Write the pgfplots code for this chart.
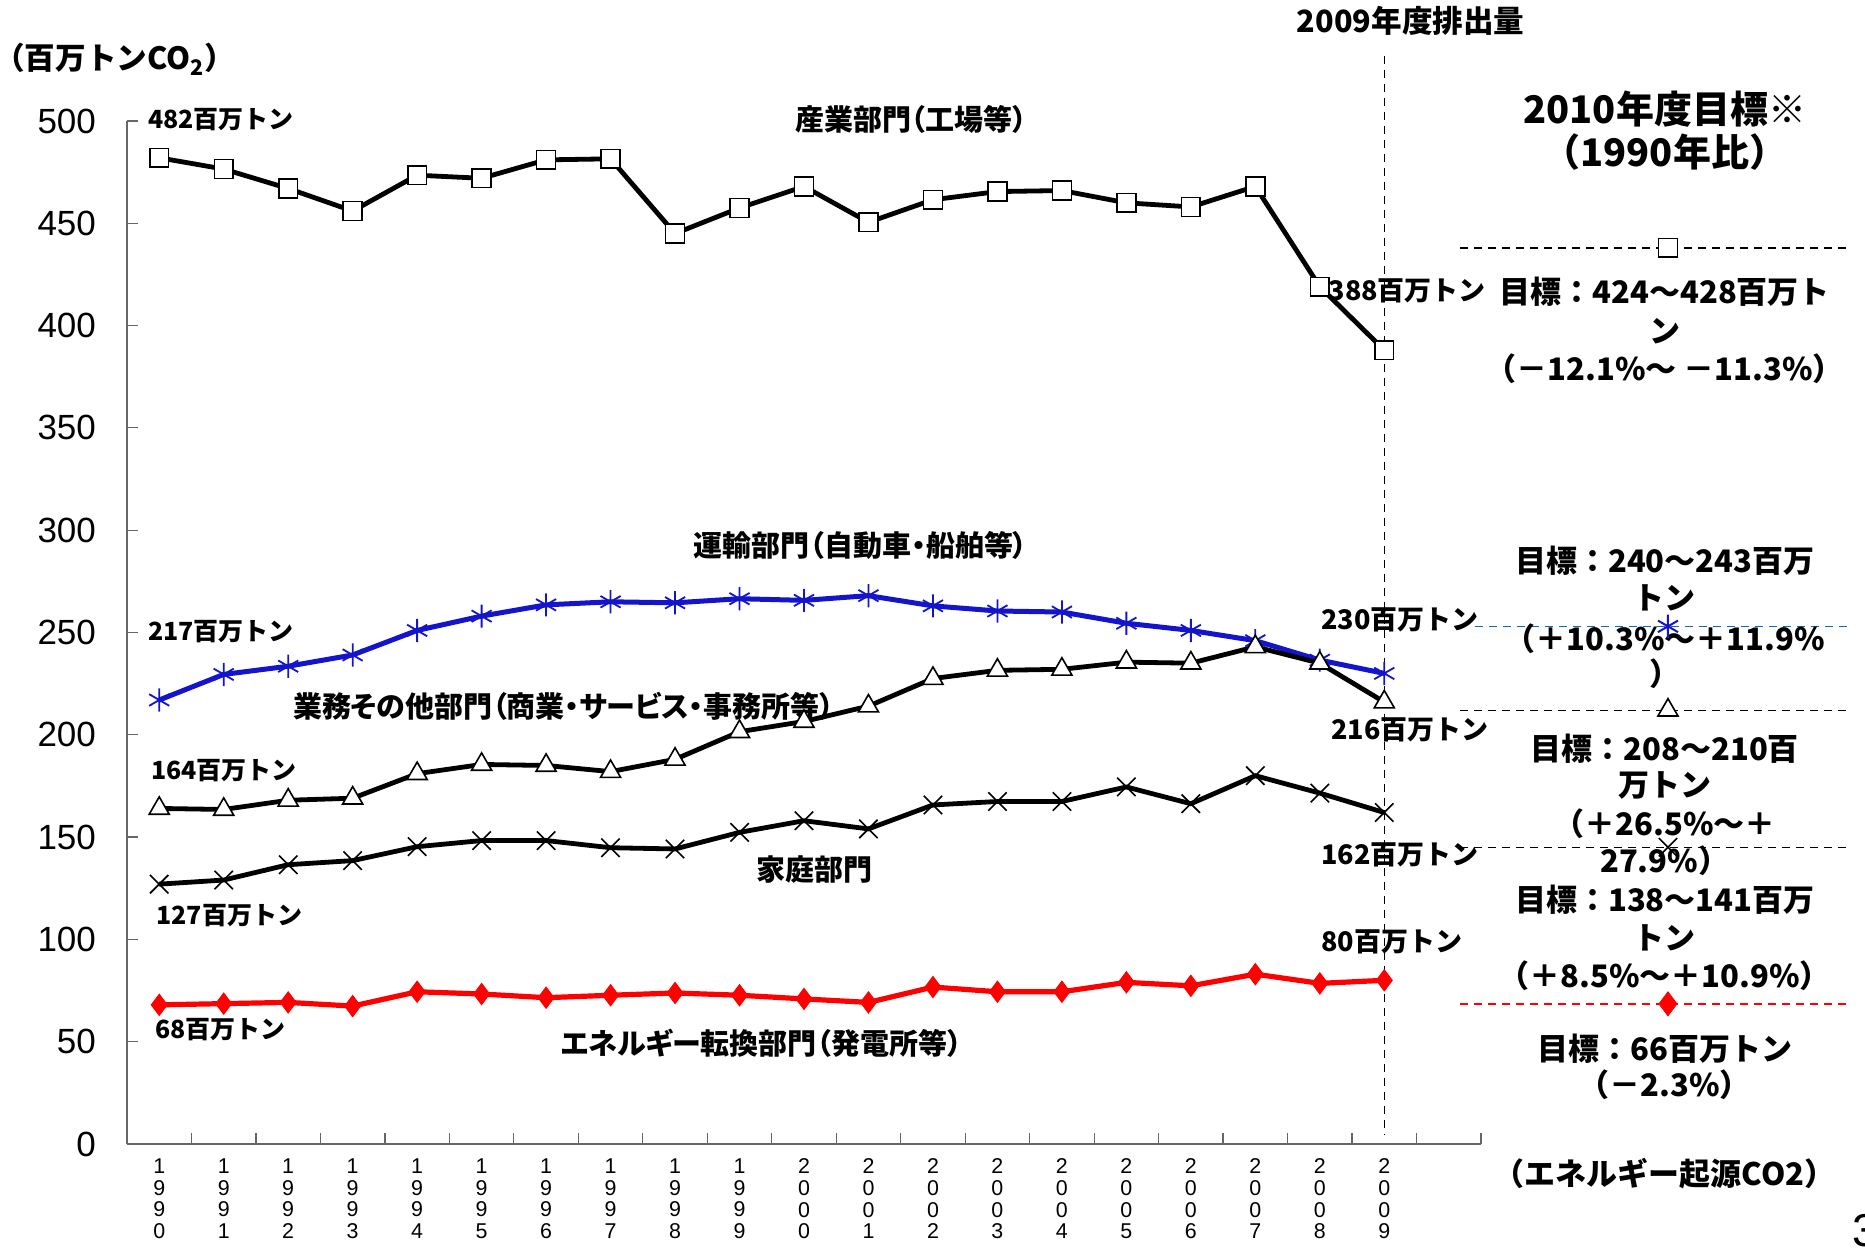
\documentclass[border=0pt]{standalone}
\usepackage{pgfplots}
\pgfplotsset{compat=1.18}
\usepackage{pgfplotstable}
\usepackage{fontspec}
\setmainfont{Liberation Sans}
\newfontfamily\jp{Noto Sans CJK JP}
\newfontfamily\jpp{Noto Sans CJK JP}[RawFeature=+palt]

\definecolor{trblue}{RGB}{20,20,205}
\definecolor{tgblue}{RGB}{0,112,192}
\definecolor{enred}{RGB}{255,0,0}

\tikzset{
  lbl/.style={font=\jp\bfseries\fontsize{12.5}{14}\selectfont},
  lblr/.style={font=\jp\bfseries\fontsize{13.5}{14}\selectfont},
  ttl/.style={font=\jp\bfseries\fontsize{15.3}{16}\selectfont},
  sector/.style={font=\jpp\bfseries\fontsize{14.5}{15}\selectfont},
  tgt/.style={font=\jp\bfseries\fontsize{15.5}{16}\selectfont},
  hdr/.style={font=\jp\bfseries\fontsize{19}{20}\selectfont},
}

% CO2 emissions by sector, million t (fiscal years 1990-2009)
\pgfplotstableread{
x  ind    tra    com    hou    ene
0  482    217    164    127    68
1  476.5  229.5  163.5  129    68.6
2  467    233.5  168    136.5  69.2
3  456    239    169    138.5  67.4
4  473.5  251    181    145.3  74.4
5  472    258    185.5  148.3  73.3
6  481    263.5  185    148.3  71.5
7  481.5  265    182    144.8  72.7
8  445    264.5  188    144.2  73.8
9  457.5  266.5  201.5  152.3  72.7
10 468    265.7  206.5  158    70.9
11 450.5  268    214    154    69.2
12 461.5  263    227.5  165.7  76.7
13 465.5  260.5  231.5  167.4  74.4
14 466    260    232    167.4  74.4
15 460    254.5  235.5  174.5  79
16 458    251    235    166.3  77.3
17 468    246    243    180    83
18 419    236.5  235    171.5  78.5
19 388    230    216    162    80
}\emissions

\begin{document}
\begin{tikzpicture}
\begin{axis}[
  scale only axis, width=677pt, height=511.5pt,
  xmin=-0.5, xmax=20.5, ymin=0, ymax=500,
  clip=false,
  axis x line*=bottom, axis y line*=left,
  axis line style={draw=black!60, line width=0.7pt, -},
  tick style={draw=black!60, line width=0.6pt},
  tick align=inside,
  major tick length=5.5pt, minor tick length=5.5pt,
  ytick={0,50,...,500},
  /pgf/number format/assume math mode=true,
  yticklabel style={font=\fontsize{17.5}{17.5}\selectfont, xshift=-12pt},
  xtick={0,...,19},
  x tick style={draw=none},
  minor xtick={-0.5,0.5,...,20.5},
  minor x tick style={draw=black!60, line width=0.6pt},
  xticklabels={{1\\9\\9\\0},{1\\9\\9\\1},{1\\9\\9\\2},{1\\9\\9\\3},{1\\9\\9\\4},
    {1\\9\\9\\5},{1\\9\\9\\6},{1\\9\\9\\7},{1\\9\\9\\8},{1\\9\\9\\9},
    {2\\0\\0\\0},{2\\0\\0\\1},{2\\0\\0\\2},{2\\0\\0\\3},{2\\0\\0\\4},
    {2\\0\\0\\5},{2\\0\\0\\6},{2\\0\\0\\7},{2\\0\\0\\8},{2\\0\\0\\9}},
  xticklabel style={align=center, anchor=north, yshift=-4pt,
    font=\fontsize{10.7}{10.8}\selectfont},
]
\coordinate (O) at (axis cs:-0.5,0);

% 2009 reference line
\addplot[black, line width=0.7pt, dash pattern=on 4pt off 3pt, forget plot]
  coordinates {(19,532) (19,5)};

% sector series
\addplot[black, line width=2.4pt, mark=square*,
  mark options={fill=white, draw=black, line width=0.8pt}, mark size=4.7pt]
  table[x=x, y=ind] {\emissions};
\addplot[trblue, line width=2.5pt, mark=asterisk,
  mark options={draw=trblue, line width=0.9pt}, mark size=5.8pt]
  table[x=x, y=tra] {\emissions};
\addplot[black, line width=2.4pt, mark=triangle*,
  mark options={fill=white, draw=black, line width=0.8pt}, mark size=5.8pt]
  table[x=x, y=com] {\emissions};
\addplot[black, line width=2.4pt, mark=x,
  mark options={draw=black, line width=0.8pt}, mark size=6.5pt]
  table[x=x, y=hou] {\emissions};
\addplot[enred, line width=2.6pt, mark=diamond*,
  mark options={fill=enred, draw=enred, line width=0.6pt}, mark size=5.2pt]
  table[x=x, y=ene] {\emissions};

% 2010 target lines and marks
\addplot[black, line width=0.7pt, dash pattern=on 4pt off 3pt]
  coordinates {(20.18,438) (26.25,438)};
\addplot[tgblue, line width=0.7pt, dash pattern=on 4pt off 3pt]
  coordinates {(20.4,253) (26.25,253)};
\addplot[black, line width=0.7pt, dash pattern=on 4pt off 3pt]
  coordinates {(20.18,212) (26.25,212)};
\addplot[black, line width=0.7pt, dash pattern=on 4pt off 3pt]
  coordinates {(20.18,145) (26.25,145)};
\addplot[enred, line width=0.7pt, dash pattern=on 4pt off 3pt]
  coordinates {(20.18,68.5) (26.25,68.5)};
\addplot[only marks, mark=square*, mark options={fill=white, draw=black, line width=0.8pt}, mark size=4.7pt]
  coordinates {(23.4,438)};
\addplot[only marks, mark=asterisk, mark options={draw=trblue, line width=1pt}, mark size=5.8pt]
  coordinates {(23.4,253)};
\addplot[only marks, mark=triangle*, mark options={fill=white, draw=black, line width=0.8pt}, mark size=5.8pt]
  coordinates {(23.4,212)};
\addplot[only marks, mark=x, mark options={draw=black, line width=0.8pt}, mark size=6.5pt]
  coordinates {(23.4,145)};
\addplot[only marks, mark=diamond*, mark options={fill=enred, draw=enred}, mark size=6pt]
  coordinates {(23.4,68.5)};

% axis unit and headings
\node[ttl] at (axis cs:-0.69,530) {（百万トンCO\textsubscript{2}）};
\node[ttl] at (axis cs:19.41,548.8) {2009年度排出量};

% series names
\node[sector] at (axis cs:11.66,500.6) {産業部門（工場等）};
\node[sector] at (axis cs:10.88,292.4) {運輸部門（自動車・船舶等）};
\node[sector] at (axis cs:6.27,214) {業務その他部門（商業・サービス・事務所等）};
\node[sector] at (axis cs:10.16,134.3) {家庭部門};
\node[sector] at (axis cs:9.34,49.4) {エネルギー転換部門（発電所等）};

% start and end values
\node[lbl, anchor=west, inner sep=0pt] at (axis cs:-0.18,500.6) {482百万トン};
\node[lbl, anchor=west, inner sep=0pt] at (axis cs:-0.18,250.6) {217百万トン};
\node[lbl, anchor=west, inner sep=0pt] at (axis cs:-0.13,182.6) {164百万トン};
\node[lbl, anchor=west, inner sep=0pt] at (axis cs:-0.05,111.6) {127百万トン};
\node[lbl, anchor=west, inner sep=0pt] at (axis cs:-0.07,55.8) {68百万トン};
\node[lblr, anchor=west, inner sep=0pt] at (axis cs:18.13,416.9) {388百万トン};
\node[lblr, anchor=west, inner sep=0pt] at (axis cs:18.02,256.4) {230百万トン};
\node[lblr, anchor=west, inner sep=0pt] at (axis cs:18.17,202.3) {216百万トン};
\node[lblr, anchor=west, inner sep=0pt] at (axis cs:18.02,141.3) {162百万トン};
\node[lblr, anchor=west, inner sep=0pt] at (axis cs:18.02,98.8) {80百万トン};

% 2010 targets
\node[hdr] at (axis cs:23.35,505.8) {2010年度目標※};
\node[hdr] at (axis cs:23.35,484.9) {（1990年比）};
\node[tgt] at (axis cs:23.35,416.3) {目標：424～428百万ト};
\node[tgt] at (axis cs:23.35,397.1) {ン};
\node[tgt] at (axis cs:23.35,379.1) {（－12.1\%～ －11.3\%）};
\node[tgt] at (axis cs:23.35,284.9) {目標：240～243百万};
\node[tgt] at (axis cs:23.35,266.9) {トン};
\node[tgt] at (axis cs:23.35,247.1) {（＋10.3\%～＋11.9\%};
\node[tgt] at (axis cs:23.35,229.7) {）};
\node[tgt] at (axis cs:23.35,193) {目標：208～210百};
\node[tgt] at (axis cs:23.35,175) {万トン};
\node[tgt] at (axis cs:23.35,156.4) {（＋26.5\%～＋};
\node[tgt] at (axis cs:23.35,138.4) {27.9\%）};
\node[tgt] at (axis cs:23.35,119.2) {目標：138～141百万};
\node[tgt] at (axis cs:23.35,100.6) {トン};
\node[tgt] at (axis cs:23.35,82) {（＋8.5\%～＋10.9\%）};
\node[tgt] at (axis cs:23.35,46.5) {目標：66百万トン};
\node[tgt] at (axis cs:23.35,29.1) {（－2.3\%）};
\node[tgt] at (axis cs:23.35,-14.5) {（エネルギー起源CO2）};
\node[anchor=west, inner sep=0pt, font=\fontsize{23}{23}\selectfont] at (axis cs:26.25,-42.4) {3};
\end{axis}
\pgfresetboundingbox
\path[use as bounding box] (O) ++(-63.5pt,-56pt) rectangle ++(932.5pt,628pt);
\end{tikzpicture}
\end{document}
